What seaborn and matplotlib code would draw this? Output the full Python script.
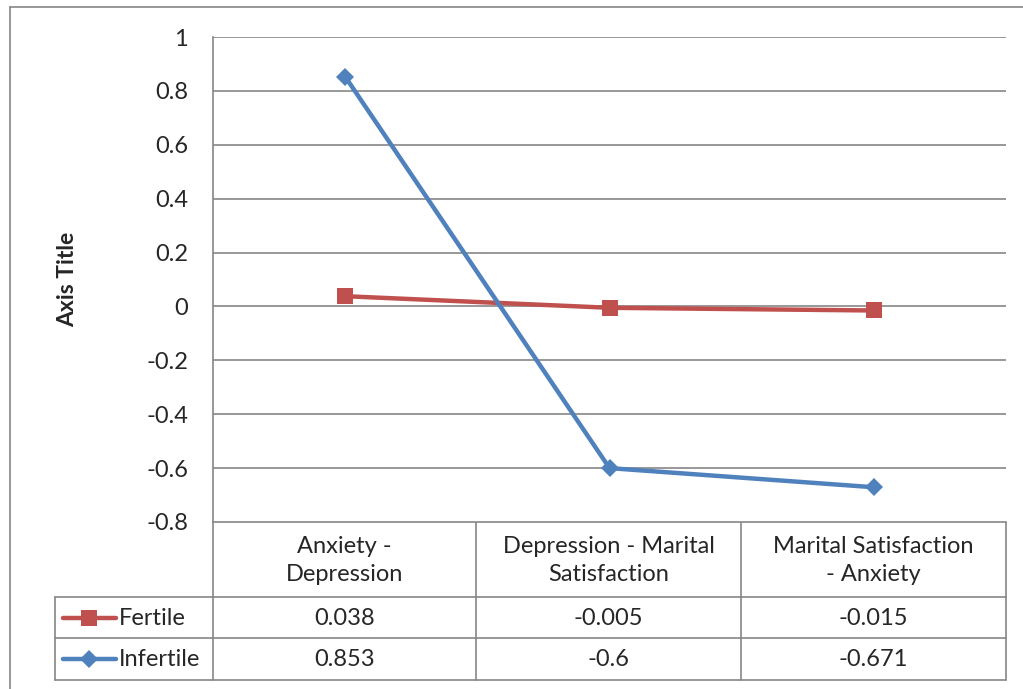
import matplotlib
matplotlib.use("Agg")
from matplotlib import pyplot as plt
import seaborn as sns
import pandas as pd

# data
categories = ["Anxiety - Depression", "Depression - Marital Satisfaction",
              "Marital Satisfaction - Anxiety"]
header_labels = ["Anxiety -\nDepression", "Depression - Marital\nSatisfaction",
                 "Marital Satisfaction\n- Anxiety"]
fertile = [0.038, -0.005, -0.015]
infertile = [0.853, -0.6, -0.671]
fertile_txt = ["0.038", "-0.005", "-0.015"]
infertile_txt = ["0.853", "-0.6", "-0.671"]
series_names = ["Fertile", "Infertile"]
yticks = [1, 0.8, 0.6, 0.4, 0.2, 0, -0.2, -0.4, -0.6, -0.8]

red = "#C0504D"
blue = "#4F81BD"
grid = "#868686"

sns.set_style("white")
plt.rcParams["font.family"] = ["Lato", "DejaVu Sans"]

W, H = 1023, 689
fig = plt.figure(figsize=(W / 100, H / 100), dpi=100)
fs = 17

# plot area in pixels
L, R, T, B = 213, 1006, 37, 522
ax = fig.add_axes([L / W, 1 - B / H, (R - L) / W, (B - T) / H])

df = pd.DataFrame({"pos": [0, 1, 2] * 2,
                   "value": fertile + infertile,
                   "series": [series_names[0]] * 3 + [series_names[1]] * 3})
sns.lineplot(data=df, x="pos", y="value", hue="series", style="series",
             markers={"Fertile": "s", "Infertile": "D"}, dashes=False,
             palette={"Fertile": red, "Infertile": blue}, linewidth=3.2,
             markersize=11, markeredgewidth=0, legend=False, ax=ax, zorder=3)
for ln, ms in zip(ax.lines, [12, 9]):
    ln.set_markersize(ms)

ax.set_xlim(-0.5, 2.5)
ax.set_ylim(-0.8, 1)
ax.set_yticks(yticks)
ax.set_yticklabels([f"{t:g}" for t in yticks], fontsize=fs)
ax.set_xticks([])
ax.set_xlabel("")
ax.set_ylabel("Axis Title", fontsize=fs - 0.5, fontweight="bold")
ax.yaxis.set_label_coords(-0.17, 0.5)
ax.tick_params(axis="y", length=0, pad=18)
ax.grid(axis="y", color=grid, linewidth=1.2)
for s in ["top", "right", "bottom"]:
    ax.spines[s].set_visible(False)
ax.spines["left"].set_color(grid)
ax.spines["left"].set_linewidth(1.2)

# overlay in pixel coordinates for table and frame
ov = fig.add_axes([0, 0, 1, 1], zorder=-1)
ov.set_xlim(0, W)
ov.set_ylim(H, 0)
ov.axis("off")
ov.patch.set_alpha(0)

lc = dict(color=grid, linewidth=1.2)
# outer chart frame
ov.plot([10, W], [7, 7], **lc)
ov.plot([10, 10], [7, H], **lc)

cols = [L, 476, 741, R]
rows = [B, 597, 638, 680]
ov.plot([L, R], [B, B], **lc)
for y in rows[1:]:
    ov.plot([55, R], [y, y], **lc)
for x in cols:
    ov.plot([x, x], [B, rows[-1]], **lc)
ov.plot([55, 55], [rows[1], rows[-1]], **lc)

for i in range(3):
    cx = (cols[i] + cols[i + 1]) / 2
    ov.text(cx, (rows[0] + rows[1]) / 2 + 1, header_labels[i], ha="center",
            va="center", fontsize=fs, linespacing=1.45)
    ov.text(cx, (rows[1] + rows[2]) / 2 + 1, fertile_txt[i], ha="center",
            va="center", fontsize=fs)
    ov.text(cx, (rows[2] + rows[3]) / 2 + 1, infertile_txt[i], ha="center",
            va="center", fontsize=fs)

# legend keys in table
for name, color, mk, ms, r in [(series_names[0], red, "s", 12, 1),
                               (series_names[1], blue, "D", 9, 2)]:
    cy = (rows[r] + rows[r + 1]) / 2
    ov.plot([63, 116], [cy, cy], color=color, linewidth=3.2,
            solid_capstyle="round")
    ov.plot([89], [cy], marker=mk, markersize=ms, color=color,
            markeredgewidth=0)
    ov.text(119, cy + 1, name, ha="left", va="center", fontsize=fs)

fig.savefig("out.png", dpi=100)
